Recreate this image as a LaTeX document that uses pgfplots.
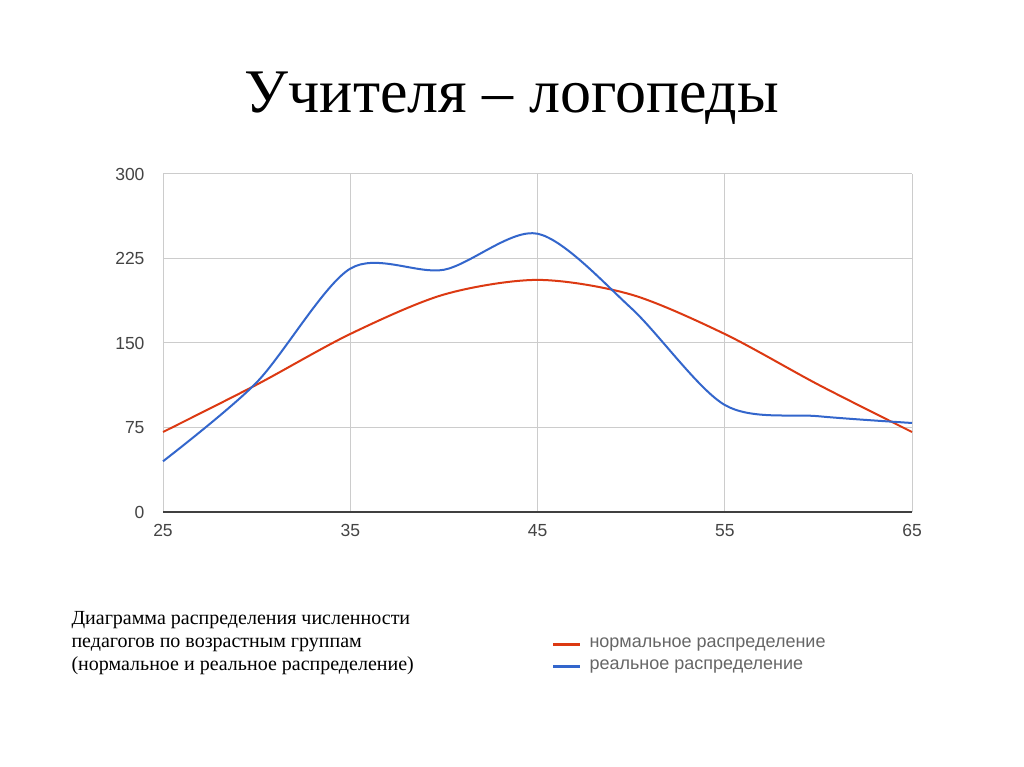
\documentclass[border=0pt]{standalone}
\usepackage{pgfplots}
\pgfplotsset{compat=1.18}
\usepackage{fontspec}
\setmainfont{Liberation Serif}
\newfontfamily\chartfont{Liberation Sans}

\definecolor{gred}{HTML}{DC3912}
\definecolor{gblue}{HTML}{3366CC}
\definecolor{gridc}{HTML}{CCCCCC}
\definecolor{ticktext}{HTML}{444444}

\begin{document}
\begin{tikzpicture}
  \useasboundingbox[fill=white] (0,0) rectangle (1024pt,767pt);

  % title
  \node[font=\fontsize{62}{68}\selectfont] at (512pt,669pt) {Учителя – логопеды};

  \begin{axis}[
      at={(163pt,255pt)}, anchor=south west,
      scale only axis,
      width=749pt, height=338pt,
      xmin=25, xmax=65, ymin=0, ymax=300,
      xtick={25,35,45,55,65},
      ytick={0,75,150,225,300},
      grid=major,
      grid style={gridc, line width=1pt},
      axis x line=bottom,
      axis y line=left,
      x axis line style={draw=black!75, line width=1.2pt, -},
      y axis line style={draw=none, -},
      major tick length=0pt,
      tick label style={font=\chartfont\fontsize{17.5}{19}\selectfont, text=ticktext},
      /pgf/number format/assume math mode=true,
      yticklabel style={anchor=east, xshift=-15pt},
      xticklabel style={anchor=north, yshift=-9pt},
      clip=false,
    ]
    \addplot[gred, line width=2pt, smooth] coordinates {
      (25,71) (30,113) (35,158) (40,193) (45,206) (50,193) (55,158) (60,113) (65,71)
    };
    \addplot[gblue, line width=2pt, smooth] coordinates {
      (25,45) (30,115) (35,216) (40,215) (45,247) (50,181) (55,95) (60,85) (65,79)
    };
  \end{axis}

  % caption
  \node[anchor=north west, align=left, font=\fontsize{20}{23}\selectfont] at (68pt,159pt)
    {Диаграмма распределения численности\\педагогов по возрастным группам\\(нормальное и реальное распределение)};

  % legend
  \draw[gred, line width=3pt] (553pt,122pt) -- (580pt,122pt);
  \draw[gblue, line width=3pt] (553pt,100pt) -- (580pt,100pt);
  \node[anchor=west, font=\chartfont\fontsize{18}{20}\selectfont, text=black!60] at (586pt,122pt) {нормальное распределение};
  \node[anchor=west, font=\chartfont\fontsize{18}{20}\selectfont, text=black!60] at (586pt,100pt) {реальное распределение};
\end{tikzpicture}
\end{document}
